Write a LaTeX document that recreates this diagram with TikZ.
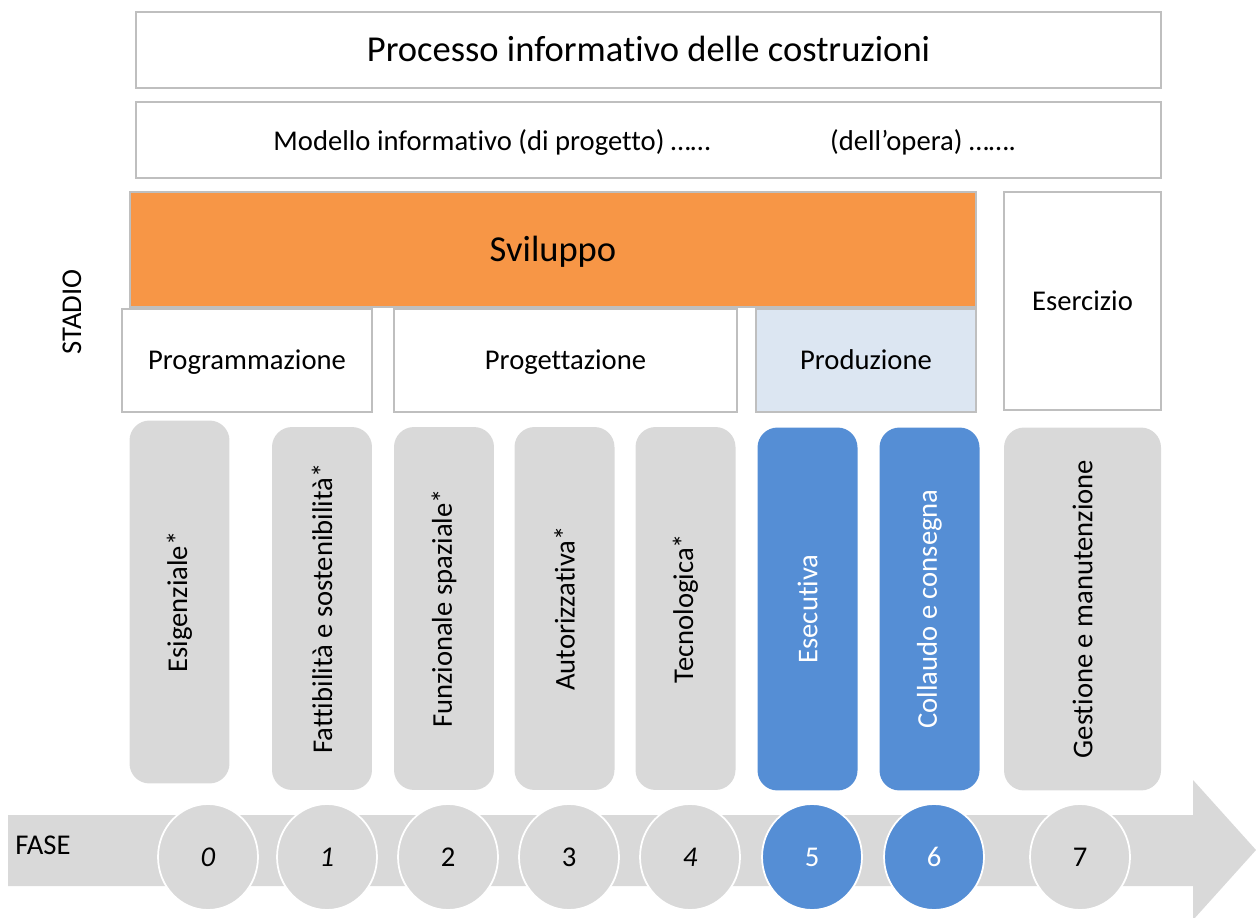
\documentclass[tikz,border=0pt]{standalone}
\usepackage{fontspec}
\setmainfont[Ligatures=CommonOff]{Carlito}
\usetikzlibrary{positioning,shapes.geometric}
\tikzset{>=stealth}

\definecolor{faseGray}{HTML}{D9D9D9}
\definecolor{svOrange}{HTML}{F79646}
\definecolor{prodBlue}{HTML}{DCE6F2}
\definecolor{phBlue}{HTML}{558ED5}
\definecolor{edgeGray}{HTML}{BFBFBF}

\begin{document}
\begin{tikzpicture}[x=0.02cm,y=-0.02cm,
	bx/.style = {% framed stage boxes
		draw=edgeGray, line width=0.8pt, fill=white, inner sep=0pt, outer sep=0pt,
		text height=12pt, text depth=1.5pt,
		font=\fontsize{16.3}{19.5}\selectfont},
	big/.style = {% larger titles
		text height=15.3pt, text depth=1.9pt,
		font=\fontsize{20.8}{25}\selectfont},
	ph/.style = {% phase boxes, text upwards
		fill=faseGray, rounded corners=0.4cm, rotate=90, inner sep=0pt,
		minimum width=7.26cm, minimum height=2cm,
		font=\fontsize{16.3}{19.5}\selectfont},
	circ/.style = {% phase numbers
		ellipse, fill=faseGray, draw=white, line width=1pt, inner sep=0pt,
		minimum width=2cm, minimum height=2.12cm,
		font=\fontsize{16.3}{19.5}\selectfont},
	lbl/.style = {% free labels
		inner sep=0pt, font=\fontsize{16.3}{19.5}\selectfont},
	]
	\useasboundingbox (0,0) rectangle (1256,918);

	% timeline arrow
	\fill[faseGray] (8,815) -- (1193,815) -- (1193,780) -- (1256,850)
		-- (1193,920) -- (1193,886) -- (8,886) -- cycle;
	\node[lbl] (fase) at (43,845) {FASE};

	% header
	\node[bx, big, minimum width=20.5cm, minimum height=1.52cm] (proc) at (648.5,50)
		{Processo informativo delle costruzioni};
	\node[bx, minimum width=20.5cm, minimum height=1.52cm] (mod) at (648.5,140) {};
	\node[lbl] (modprog) at (492,142) {Modello informativo (di progetto) ……};
	\node[lbl] (modop) at (923,142) {(dell’opera) …….};

	% stadi
	\node[lbl, rotate=90] (stadio) at (72,312) {STADIO};
	\node[bx, big, fill=svOrange, minimum width=16.92cm, minimum height=2.3cm]
		(svil) at (553,249.5) {Sviluppo};
	\node[bx, minimum width=3.14cm, minimum height=4.36cm] (eserc) at (1082.5,301) {Esercizio};
	\node[bx, minimum width=5cm, minimum height=2.06cm] (progr) at (247,360.5) {Programmazione};
	\node[bx, minimum width=6.86cm, minimum height=2.06cm] (proget) at (565.5,360.5) {Progettazione};
	\node[bx, fill=prodBlue, minimum width=4.4cm, minimum height=2.06cm] (prod) at (866,360.5) {Produzione};

	% fasi
	\node[ph] (esig) at (179.5,602) {Esigenziale*};
	\node[ph] (fatt) at (322,608.5) {Fattibilità e sostenibilità*};
	\node[ph] (funz) at (444,608.5) {Funzionale spaziale*};
	\node[ph] (auto) at (564.5,608.5) {Autorizzativa*};
	\node[ph] (tecn) at (685.5,608.5) {Tecnologica*};
	\node[ph, fill=phBlue, text=white] (esec) at (807.5,609) {Esecutiva};
	\node[ph, fill=phBlue, text=white] (coll) at (929.5,609) {Collaudo e consegna};
	\node[ph, minimum height=3.14cm] (gest) at (1082.5,609) {Gestione e manutenzione};

	% numeri
	\node[circ] (n0) at (208,857) {\textit{0}};
	\node[circ] (n1) at (327,857) {\textit{1}};
	\node[circ] (n2) at (448,857) {2};
	\node[circ] (n3) at (569,857) {3};
	\node[circ] (n4) at (690,857) {\textit{4}};
	\node[circ, fill=phBlue, text=white] (n5) at (812,857) {5};
	\node[circ, fill=phBlue, text=white] (n6) at (934,857) {6};
	\node[circ] (n7) at (1080,857) {7};

\end{tikzpicture}
\end{document}
